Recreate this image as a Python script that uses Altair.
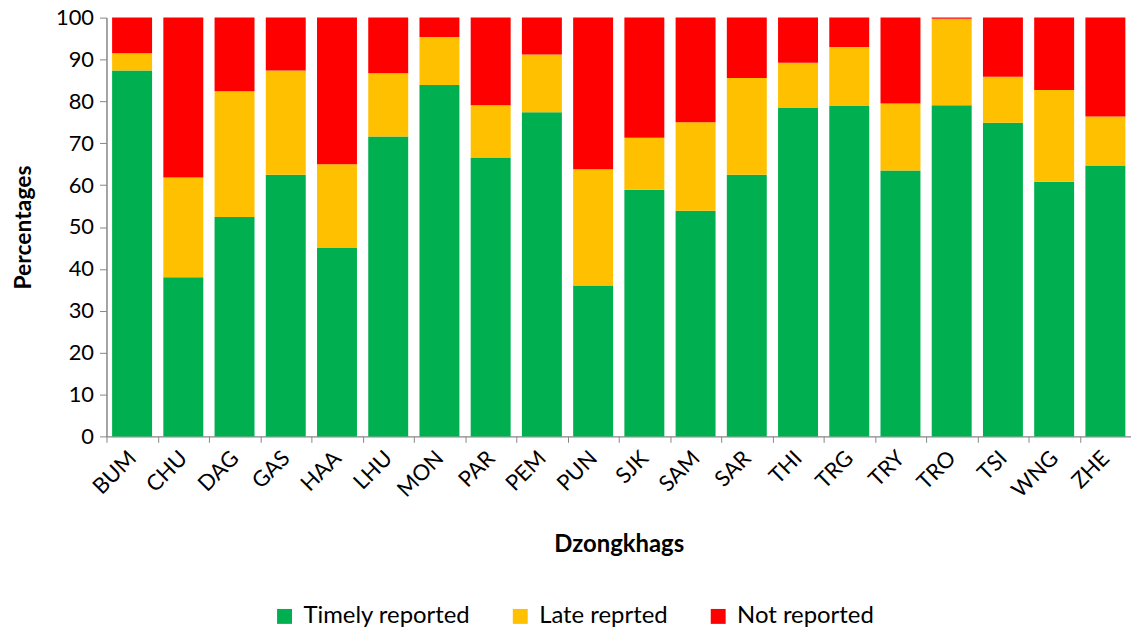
import altair as alt
import pandas as pd

categories = ["BUM", "CHU", "DAG", "GAS", "HAA", "LHU", "MON", "PAR", "PEM", "PUN",
              "SJK", "SAM", "SAR", "THI", "TRG", "TRY", "TRO", "TSI", "WNG", "ZHE"]
timely = [87.4, 38.0, 52.4, 62.5, 45.0, 71.6, 83.9, 66.6, 77.4, 36.0,
          58.9, 53.9, 62.5, 78.4, 78.9, 63.5, 79.1, 74.9, 60.8, 64.7]
late = [4.1, 23.8, 30.0, 24.9, 20.0, 15.1, 11.5, 12.5, 13.8, 27.8,
        12.4, 21.1, 23.1, 10.8, 14.1, 16.0, 20.6, 11.0, 21.9, 11.7]
not_reported = [round(100 - t - l, 1) for t, l in zip(timely, late)]

series = ["Timely reported", "Late reprted", "Not reported"]
colors = ["#00B050", "#FFC000", "#FF0000"]

rows = []
for i, c in enumerate(categories):
    for k, (s, v) in enumerate(zip(series, [timely[i], late[i], not_reported[i]])):
        rows.append({"Dzongkhag": c, "Status": s, "Value": v, "order": k})
df = pd.DataFrame(rows)

FONT = "Lato"

chart = alt.Chart(df).mark_bar(width=alt.RelativeBandSize(0.78)).encode(
    x=alt.X("Dzongkhag:N", sort=categories,
            scale=alt.Scale(paddingInner=0, paddingOuter=0),
            axis=alt.Axis(title="Dzongkhags", labelAngle=-45, labelAlign="right",
                          labelBaseline="middle", labelPadding=12, tickBand="extent",
                          tickSize=6, titleY=116, titleBaseline="alphabetic")),
    y=alt.Y("Value:Q", stack="zero",
            scale=alt.Scale(domain=[0, 100], nice=False),
            axis=alt.Axis(title="Percentages", values=list(range(0, 101, 10)),
                          tickSize=7, labelPadding=6, grid=False, titleX=-76,
                          titleFontSize=23, titleBaseline="alphabetic")),
    color=alt.Color("Status:N", sort=series,
                    scale=alt.Scale(domain=series, range=colors),
                    legend=alt.Legend(title=None, orient="none", direction="horizontal",
                                      legendX=167, legendY=590, symbolType="square",
                                      symbolSize=225, labelFontSize=24, columnPadding=38,
                                      labelOffset=7, labelLimit=0, labelFont=FONT,
                                      labelColor="#000000", symbolStrokeWidth=0)),
    order=alt.Order("order:Q", sort="ascending"),
).properties(
    width=1030, height=421,
    autosize=alt.AutoSizeParams(type="none"),
    padding={"left": 99, "top": 8, "right": 0, "bottom": 195},
).configure_view(stroke=None).configure_axis(
    labelFont=FONT, titleFont=FONT, labelFontSize=22, titleFontSize=24,
    titleFontWeight="bold", labelColor="#000000", titleColor="#000000",
    domainColor="#868686", tickColor="#868686", domainWidth=1.5,
)

chart.save("out.html", embed_options={"renderer": "svg", "actions": False})
